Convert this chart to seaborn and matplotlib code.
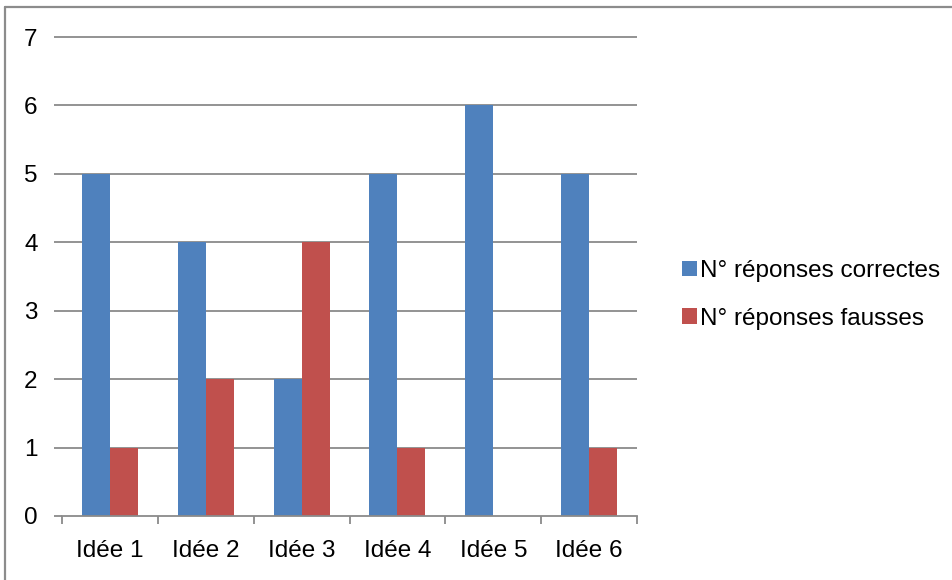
import matplotlib
matplotlib.use("Agg")
import matplotlib.pyplot as plt
from matplotlib.lines import Line2D
from matplotlib.patches import Patch
from matplotlib.ticker import FixedLocator
import seaborn as sns
import pandas as pd

categories = ["Idée 1", "Idée 2", "Idée 3", "Idée 4", "Idée 5", "Idée 6"]
correctes = [5, 4, 2, 5, 6, 5]
fausses = [1, 2, 4, 1, 0, 1]
series_names = ["N° réponses correctes", "N° réponses fausses"]
y_ticks = [0, 1, 2, 3, 4, 5, 6, 7]

colors = ["#4F81BD", "#C0504D"]
grid_gray = "#8A8A8A"

df = pd.DataFrame({
    "Idée": categories * 2,
    "Nombre": correctes + fausses,
    "Série": [series_names[0]] * len(categories) + [series_names[1]] * len(categories),
})

sns.set_theme(style="white")
plt.rcParams["font.family"] = ["Liberation Sans", "DejaVu Sans"]
plt.rcParams["text.color"] = "black"

fig = plt.figure(figsize=(9.53, 5.8), dpi=100)
ax_w_px = 637 - 62
ax = fig.add_axes([62 / 953, 1 - 516 / 580, ax_w_px / 953, (516 - 37) / 580])

sns.barplot(data=df, x="Idée", y="Nombre", hue="Série", order=categories,
            hue_order=series_names, palette=colors, width=0.585, gap=0,
            saturation=1, edgecolor="none", linewidth=0, ax=ax, legend=False,
            zorder=3)

ax.set_xlim(-0.5, len(categories) - 0.5)
ax.set_ylim(0, 7)
ax.set_yticks(y_ticks)
ax.set_xlabel("")
ax.set_ylabel("")
ax.grid(False)

# horizontal gridlines, each with a short outward tick on the left
ytrans = ax.get_yaxis_transform()
for y in y_ticks[1:]:
    ax.plot([-8 / ax_w_px, 1], [y, y], transform=ytrans, color=grid_gray,
            linewidth=1.3, clip_on=False, zorder=1, solid_capstyle="butt")
ax.plot([-8 / ax_w_px, 0], [0, 0], transform=ytrans, color=grid_gray,
        linewidth=1.3, clip_on=False, zorder=1, solid_capstyle="butt")

for side in ["left", "right", "top"]:
    ax.spines[side].set_visible(False)
ax.spines["bottom"].set_color(grid_gray)
ax.spines["bottom"].set_linewidth(1.3)
ax.spines["bottom"].set_zorder(4)

ax.tick_params(axis="y", length=0, pad=17.5, labelsize=17.5, labelcolor="black")
ax.tick_params(axis="x", which="major", length=0, pad=17.5, labelsize=17.5,
               labelcolor="black")
ax.xaxis.set_minor_locator(FixedLocator([i - 0.5 for i in range(len(categories) + 1)]))
ax.tick_params(axis="x", which="minor", length=5.8, width=1.3, color=grid_gray,
               direction="out", bottom=True)

handles = [Patch(facecolor=c, edgecolor="none") for c in colors]
fig.legend(handles, series_names, loc="center left",
           bbox_to_anchor=(682 / 953, 1 - 295 / 580), frameon=False,
           fontsize=17.5, labelcolor="black", handlelength=0.6, handleheight=0.6,
           handletextpad=0.15, labelspacing=1.05, borderpad=0, borderaxespad=0)

# outer chart frame (top and left edges)
fig.add_artist(Line2D([5 / 953, 5 / 953], [0, 1 - 7 / 580], transform=fig.transFigure,
                      color="#8C8C8C", linewidth=1.6))
fig.add_artist(Line2D([5 / 953, 1], [1 - 7 / 580, 1 - 7 / 580], transform=fig.transFigure,
                      color="#8C8C8C", linewidth=1.6))

fig.savefig("out.png", dpi=100, facecolor="white")
